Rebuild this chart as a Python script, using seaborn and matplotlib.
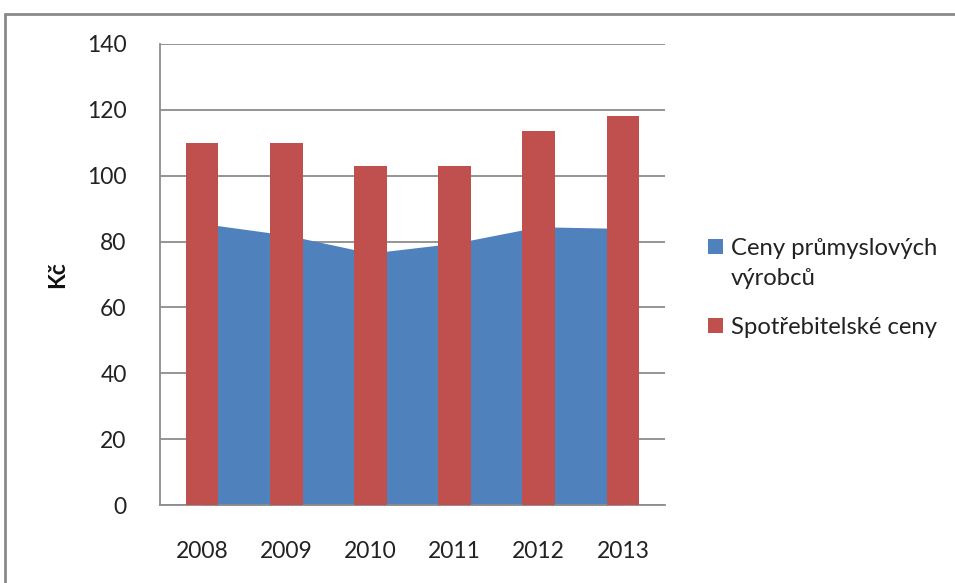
import matplotlib
matplotlib.use("Agg")
import matplotlib.pyplot as plt
import matplotlib.patches as mpatches
from matplotlib.lines import Line2D
import seaborn as sns
import pandas as pd

years = ["2008", "2009", "2010", "2011", "2012", "2013"]
industrial_prices = [85.5, 82, 76.5, 79.5, 84.5, 84]
consumer_prices = [110, 110, 103, 103, 113.5, 118]
series_names = ["Ceny průmyslových\nvýrobců", "Spotřebitelské ceny"]
y_ticks = [0, 20, 40, 60, 80, 100, 120, 140]

BLUE = "#4F81BD"
RED = "#C0504D"
GRID = "#8C8C8C"
TEXT = "#222222"
FS = 16.5

sns.set_style("white")
plt.rcParams["font.family"] = ["Lato", "DejaVu Sans"]

df = pd.DataFrame({"rok": years, "prumysl": industrial_prices, "spotreba": consumer_prices})

W, H = 955, 583
fig = plt.figure(figsize=(W / 100, H / 100), dpi=100)
ax = fig.add_axes([160 / W, 1 - 505 / H, 505 / W, 461 / H])

# blue area between category centres
ax.fill_between(range(len(years)), df["prumysl"], 0, color=BLUE, lw=0, zorder=1)

# red bars on top
sns.barplot(data=df, x="rok", y="spotreba", color=RED, width=0.39,
            saturation=1, ax=ax, zorder=3, edgecolor="none")

ax.set_xlim(-0.5, len(years) - 0.5)
ax.set_ylim(0, 140)
ax.set_yticks(y_ticks)
ax.set_yticklabels([str(v) for v in y_ticks], fontsize=FS, color=TEXT)
ax.set_xticks(range(len(years)))
ax.set_xticklabels(years, fontsize=FS, color=TEXT)
ax.tick_params(axis="y", length=0, pad=24)
ax.tick_params(axis="x", length=0, pad=26)
ax.set_xlabel("")
ax.set_ylabel("Kč", fontsize=FS, fontweight="bold", color="#111111")
ax.yaxis.set_label_coords(-0.182, 0.5)

for v in y_ticks:
    ax.axhline(v, color=GRID, lw=1.3, zorder=0.5)

for side in ["top", "right"]:
    ax.spines[side].set_visible(False)
for side in ["left", "bottom"]:
    ax.spines[side].set_color(GRID)
    ax.spines[side].set_linewidth(1.3)

# legend: square keys with labels to their right
def fx(px):
    return px / W

def fy(py):
    return 1 - py / H

key_size = 15
for name, colour, baseline in zip(series_names, [BLUE, RED], [255, 334]):
    fig.add_artist(mpatches.Rectangle((fx(708), fy(baseline - 1)), key_size / W, key_size / H,
                                      transform=fig.transFigure, color=colour, lw=0))
    for i, line in enumerate(name.split("\n")):
        fig.text(fx(731), fy(baseline + 30 * i), line, fontsize=17.2, color=TEXT,
                 ha="left", va="baseline")

# outer chart frame
fig.add_artist(Line2D([fx(5), fx(5)], [0, fy(14)],
                      transform=fig.transFigure, color="#8A8A8A", lw=2))
fig.add_artist(Line2D([fx(5), 1], [fy(14), fy(14)],
                      transform=fig.transFigure, color="#8A8A8A", lw=2))

fig.savefig("out.png", dpi=100)
